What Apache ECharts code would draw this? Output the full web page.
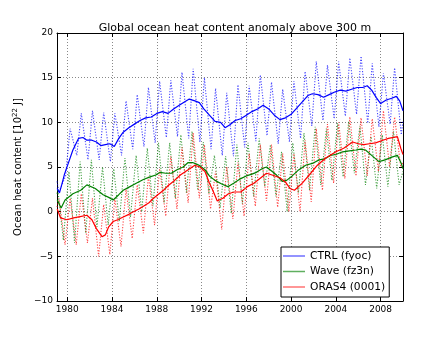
<!DOCTYPE html>
<html>
<head>
<meta charset="utf-8">
<script src="https://cdn.jsdelivr.net/npm/echarts@6/dist/echarts.min.js"></script>
<style>
  html, body { margin: 0; padding: 0; background: #fff; }
  #chart { width: 447px; height: 337px; }
</style>
</head>
<body>
<div id="chart"></div>
<script>
// 年份 (每年一个季节峰值和谷值)
const years = [1979, 1980, 1981, 1982, 1983, 1984, 1985, 1986, 1987, 1988, 1989,
  1990, 1991, 1992, 1993, 1994, 1995, 1996, 1997, 1998, 1999,
  2000, 2001, 2002, 2003, 2004, 2005, 2006, 2007, 2008, 2009];
const xTicks = [1980, 1984, 1988, 1992, 1996, 2000, 2004, 2008];

// CTRL (fyoc) - 平滑曲线
const ctrlMean = [[1979.1, 2.6], [1979.3, 2.1], [1979.5, 3.0], [1979.75, 4.2], [1980.0, 5.1],
  [1980.5, 6.9], [1981.0, 8.2], [1981.4, 8.3], [1981.75, 8.0], [1982.2, 8.0], [1982.6, 7.8],
  [1983.0, 7.4], [1983.4, 7.5], [1983.8, 7.6], [1984.2, 7.3], [1984.6, 8.2], [1985.0, 8.9],
  [1985.5, 9.4], [1986.0, 9.8], [1986.5, 10.2], [1987.0, 10.5], [1987.5, 10.6], [1988.0, 11.0],
  [1988.5, 11.2], [1989.0, 11.0], [1989.5, 11.5], [1990.0, 11.9], [1990.5, 12.3], [1990.9, 12.6],
  [1991.4, 12.4], [1991.8, 12.2], [1992.2, 11.5], [1992.7, 10.8], [1993.2, 10.1], [1993.7, 10.0],
  [1994.1, 9.4], [1994.5, 9.7], [1995.0, 10.2], [1995.5, 10.4], [1996.0, 10.8], [1996.5, 11.2],
  [1997.0, 11.5], [1997.5, 11.9], [1998.0, 11.5], [1998.5, 10.8], [1999.0, 10.3], [1999.5, 10.5],
  [2000.0, 10.9], [2000.5, 11.6], [2001.0, 12.3], [2001.5, 13.0], [2001.9, 13.2], [2002.4, 13.1],
  [2002.9, 12.8], [2003.4, 13.1], [2003.9, 13.4], [2004.4, 13.6], [2004.9, 13.5], [2005.4, 13.7],
  [2005.9, 13.9], [2006.4, 13.9], [2006.8, 14.1], [2007.2, 13.6], [2007.6, 12.8], [2008.0, 12.1],
  [2008.5, 12.5], [2009.0, 12.7], [2009.4, 12.9], [2009.7, 12.4], [2010.0, 11.3]];
// CTRL 月值: 季节峰/谷
const ctrlPeaks = [2.2, 9.3, 11.0, 11.3, 11.1, 11.0, 12.4, 13.1, 13.9, 14.6, 14.7,
  15.6, 16.0, 15.0, 13.8, 13.3, 14.2, 14.1, 15.3, 14.5, 13.7,
  14.6, 15.7, 16.8, 16.4, 16.8, 17.2, 17.4, 16.6, 15.5, 16.1];
const ctrlTroughs = [4.0, 6.3, 5.8, 5.8, 5.6, 6.3, 7.0, 7.3, 7.7, 8.3, 8.4,
  8.2, 7.8, 7.0, 6.3, 6.2, 7.2, 7.9, 8.5, 7.6, 7.8,
  8.2, 9.6, 10.2, 10.4, 10.7, 10.9, 9.9, 9.5, 9.8, 8.6];
const ctrlEnds = [3.4, 10.2];

// Wave (fz3n)
const waveMean = [[1979.1, 1.3], [1979.45, 0.4], [1979.8, 1.3], [1980.5, 2.0], [1981.2, 2.4],
  [1981.75, 3.0], [1982.5, 2.6], [1983.2, 1.9], [1983.7, 1.6], [1984.1, 1.3], [1984.6, 1.9],
  [1985.0, 2.4], [1985.6, 2.8], [1986.2, 3.2], [1986.8, 3.6], [1987.4, 3.9], [1987.9, 4.1],
  [1988.3, 4.4], [1988.8, 4.3], [1989.3, 4.3], [1989.8, 4.7], [1990.35, 5.0], [1990.8, 5.5],
  [1991.2, 5.5], [1991.6, 5.3], [1991.9, 5.1], [1992.3, 4.7], [1992.7, 4.0], [1993.2, 3.5],
  [1993.8, 3.1], [1994.35, 2.8], [1994.9, 3.2], [1995.5, 3.7], [1996.0, 4.0], [1996.5, 4.2],
  [1996.9, 4.4], [1997.4, 4.8], [1997.8, 5.0], [1998.2, 4.6], [1998.7, 4.1], [1999.2, 3.4],
  [1999.6, 3.5], [2000.1, 4.0], [2000.6, 4.6], [2001.3, 5.2], [2001.9, 5.4], [2002.5, 5.8],
  [2003.0, 5.9], [2003.5, 6.3], [2004.0, 6.4], [2004.6, 6.7], [2005.2, 6.8], [2005.8, 6.9],
  [2006.2, 7.0], [2006.65, 6.9], [2007.2, 6.3], [2007.85, 5.6], [2008.4, 5.8], [2009.0, 6.1],
  [2009.5, 6.3], [2009.85, 5.4], [2010.0, 4.8]];
const wavePeaks = [2.5, 4.5, 5.6, 5.8, 5.0, 4.8, 6.0, 6.3, 7.1, 7.7, 7.7,
  8.6, 9.0, 7.8, 6.3, 6.2, 7.5, 7.7, 8.2, 7.5, 6.7,
  7.7, 8.8, 9.5, 9.3, 9.9, 10.1, 9.6, 8.4, 8.6, 9.0];
const waveTroughs = [-3.2, -3.5, -2.4, -1.7, -1.5, -1.1, -0.6, 0.0, 0.6, 1.0, 1.5,
  2.1, 2.4, 2.0, 0.4, -0.2, 0.9, 1.7, 2.8, 1.7, 0.0,
  2.1, 2.4, 3.0, 3.5, 3.9, 4.3, 3.0, 2.6, 2.8, 3.0];
const waveEnds = [2.0, 4.5];

// ORAS4 (0001)
const orasMean = [[1979.1, 0.3], [1979.4, -0.7], [1979.97, -0.9], [1980.56, -0.7], [1981.15, -0.55],
  [1981.75, -0.4], [1982.2, -0.9], [1982.6, -1.9], [1983.1, -2.8], [1983.4, -2.6], [1983.7, -1.7],
  [1984.1, -1.1], [1984.5, -0.9], [1985.0, -0.6], [1985.5, -0.3], [1985.9, 0.0], [1986.4, 0.3],
  [1986.8, 0.6], [1987.3, 1.0], [1987.7, 1.5], [1988.2, 2.0], [1988.6, 2.4], [1989.0, 2.9],
  [1989.5, 3.4], [1990.1, 4.1], [1990.8, 4.7], [1991.4, 5.2], [1991.85, 5.0], [1992.3, 4.5],
  [1992.7, 3.2], [1993.0, 2.4], [1993.4, 1.2], [1993.9, 1.5], [1994.4, 2.0], [1994.9, 2.2],
  [1995.5, 2.2], [1996.1, 2.8], [1996.7, 3.2], [1997.3, 3.8], [1997.8, 4.3], [1998.3, 4.1],
  [1999.0, 3.8], [1999.5, 3.3], [1999.9, 2.6], [2000.3, 2.4], [2001.0, 3.2], [2001.75, 4.3],
  [2002.35, 5.2], [2003.1, 6.0], [2004.0, 6.7], [2004.7, 7.1], [2005.5, 7.8], [2006.0, 7.6],
  [2006.5, 7.5], [2007.0, 7.6], [2007.55, 7.7], [2008.2, 8.0], [2008.7, 8.2], [2009.5, 8.4],
  [2009.8, 7.1], [2010.0, 6.4]];
const orasPeaks = [1.5, 1.5, 2.0, 1.5, 0.8, 1.5, 2.5, 3.0, 4.0, 4.8, 6.2,
  7.2, 8.8, 7.5, 4.5, 5.0, 5.5, 6.5, 7.5, 7.5, 6.5,
  6.5, 8.0, 9.3, 9.8, 10.0, 10.6, 10.5, 10.4, 11.3, 10.6];
const orasTroughs = [-3.7, -3.7, -3.5, -5.0, -4.8, -3.9, -3.0, -2.4, -1.5, -0.5, 0.3,
  1.0, 1.5, 0.3, -2.0, -0.8, -0.5, 0.6, 1.2, 0.5, 0.0,
  0.0, 1.1, 2.4, 3.2, 3.7, 4.0, 4.0, 4.5, 5.0, 5.0];
const orasEnds = [0.5, 5.5];

// 由峰谷值组装月值折线
function seasonal(ends, peaks, troughs, peakOff, troughOff) {
  const out = [[1979.08, ends[0]]];
  years.forEach(function (y, i) {
    out.push([y + peakOff, peaks[i]]);
    out.push([y + troughOff, troughs[i]]);
  });
  out.push([2010.0, ends[1]]);
  return out;
}

const chart = echarts.init(document.getElementById('chart'));
const font = 'DejaVu Sans';
const minus = function (v) { return String(v).replace('-', '\u2212'); };

function dotted(name, color, data) {
  return {
    name: name, type: 'line', data: data, showSymbol: false, silent: true,
    lineStyle: { color: color, width: 1.1, type: [1.2, 1.6], opacity: 0.72 },
    itemStyle: { color: color }
  };
}
function solid(name, color, data) {
  return {
    name: name, type: 'line', data: data, showSymbol: false, silent: true,
    lineStyle: { color: color, width: 1.2 },
    itemStyle: { color: color }
  };
}

const option = {
  animation: false,
  title: {
    text: 'Global ocean heat content anomaly above 300 m',
    left: 230, top: 18, textAlign: 'center',
    textStyle: { fontFamily: font, fontSize: 11, fontWeight: 'normal', color: '#000' }
  },
  grid: { left: 57, right: 44, top: 33, bottom: 36 },
  legend: {
    orient: 'vertical', left: 281, top: 247,
    data: [
      { name: 'CTRL (fyoc)', itemStyle: { color: '#6f6fff' } },
      { name: 'Wave (fz3n)', itemStyle: { color: '#5faf5f' } },
      { name: 'ORAS4 (0001)', itemStyle: { color: '#ff7373' } }
    ],
    icon: 'rect', itemWidth: 22, itemHeight: 1.5, itemGap: 1.5, itemTextGap: 12,
    padding: [2, 4, 3, 2],
    backgroundColor: '#fff', borderColor: '#000', borderWidth: 1,
    textStyle: { fontFamily: font, fontSize: 10.7, color: '#000', lineHeight: 14 }
  },
  xAxis: [{
    type: 'value', min: 1979.08, max: 2010.0,
    axisLine: { onZero: false, lineStyle: { color: '#000', width: 1 } },
    axisTick: { inside: true, length: 4, customValues: xTicks, lineStyle: { color: '#000' } },
    axisLabel: { customValues: xTicks, formatter: function (v) { return String(v); },
      fontFamily: font, fontSize: 9, color: '#000', margin: 4 },
    splitLine: { show: true, lineStyle: { color: '#888', type: [1, 2] } }
  }, {
    type: 'value', min: 1979.08, max: 2010.0, position: 'top',
    axisLine: { onZero: false, lineStyle: { color: '#000', width: 1 } },
    axisTick: { inside: true, length: 4, customValues: xTicks, lineStyle: { color: '#000' } },
    axisLabel: { show: false }, splitLine: { show: false }
  }],
  yAxis: [{
    type: 'value', min: -10, max: 20, interval: 5,
    name: 'Ocean heat content [10{sup|22} J]', nameLocation: 'middle', nameGap: 30,
    nameTextStyle: {
      fontFamily: font, fontSize: 10, color: '#000',
      rich: { sup: { fontFamily: font, fontSize: 7, color: '#000', verticalAlign: 'top', padding: [0, 0, 5, 0] } }
    },
    axisLine: { show: true, onZero: false, lineStyle: { color: '#000', width: 1 } },
    axisTick: { show: true, inside: true, length: 4, lineStyle: { color: '#000' } },
    axisLabel: { fontFamily: font, fontSize: 9, color: '#000', margin: 4, formatter: minus },
    splitLine: { show: true, lineStyle: { color: '#888', type: [1, 2] } }
  }, {
    type: 'value', min: -10, max: 20, interval: 5, position: 'right',
    axisLine: { show: true, onZero: false, lineStyle: { color: '#000', width: 1 } },
    axisTick: { show: true, inside: true, length: 4, lineStyle: { color: '#000' } },
    axisLabel: { show: false }, splitLine: { show: false }
  }],
  series: [
    dotted('ctrl-monthly', '#0000ff', seasonal(ctrlEnds, ctrlPeaks, ctrlTroughs, 0.25, 0.85)),
    dotted('wave-monthly', '#008000', seasonal(waveEnds, wavePeaks, waveTroughs, 0.15, 0.65)),
    dotted('oras-monthly', '#ff0000', seasonal(orasEnds, orasPeaks, orasTroughs, 0.25, 0.8)),
    solid('CTRL (fyoc)', '#0000ff', ctrlMean),
    solid('Wave (fz3n)', '#008000', waveMean),
    solid('ORAS4 (0001)', '#ff0000', orasMean)
  ]
};

chart.setOption(option);
</script>
</body>
</html>
